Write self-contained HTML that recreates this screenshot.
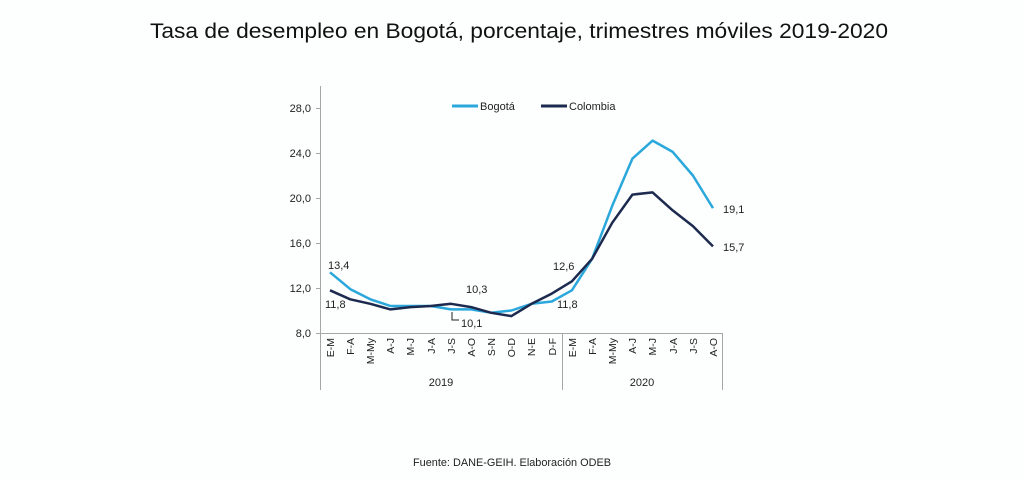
<!DOCTYPE html>
<html><head><meta charset="utf-8"><style>
html,body{margin:0;padding:0;background:#fdfefe;}
svg{display:block;font-family:"Liberation Sans",sans-serif;}
</style></head><body>
<svg width="1024" height="480" viewBox="0 0 1024 480" xmlns="http://www.w3.org/2000/svg">
<rect width="1024" height="480" fill="#fdfefe"/>
<text x="519" y="38" text-anchor="middle" font-size="21" fill="#111" textLength="738" lengthAdjust="spacingAndGlyphs">Tasa de desempleo en Bogotá, porcentaje, trimestres móviles 2019-2020</text>
<g stroke="#a6a6a6" stroke-width="1" fill="none">
<line x1="320.5" y1="86" x2="320.5" y2="390"/>
<line x1="320" y1="333.5" x2="723" y2="333.5"/>
<line x1="562.5" y1="333" x2="562.5" y2="390"/>
<line x1="722.5" y1="333" x2="722.5" y2="390"/>
<line x1="316" y1="108.5" x2="320" y2="108.5"/>
<line x1="316" y1="153.5" x2="320" y2="153.5"/>
<line x1="316" y1="198.5" x2="320" y2="198.5"/>
<line x1="316" y1="243.5" x2="320" y2="243.5"/>
<line x1="316" y1="288.5" x2="320" y2="288.5"/>
<line x1="316" y1="333.5" x2="320" y2="333.5"/>
</g>
<g font-size="11" fill="#222" text-anchor="end">
<text x="311" y="112">28,0</text>
<text x="311" y="157">24,0</text>
<text x="311" y="202">20,0</text>
<text x="311" y="247">16,0</text>
<text x="311" y="292">12,0</text>
<text x="311" y="337">8,0</text>
</g>
<g font-size="10.5" fill="#222" text-anchor="end">
<text transform="translate(334,338) rotate(-90)">E-M</text>
<text transform="translate(354,338) rotate(-90)">F-A</text>
<text transform="translate(374,338) rotate(-90)">M-My</text>
<text transform="translate(394,338) rotate(-90)">A-J</text>
<text transform="translate(414,338) rotate(-90)">M-J</text>
<text transform="translate(435,338) rotate(-90)">J-A</text>
<text transform="translate(455,338) rotate(-90)">J-S</text>
<text transform="translate(475,338) rotate(-90)">A-O</text>
<text transform="translate(495,338) rotate(-90)">S-N</text>
<text transform="translate(515,338) rotate(-90)">O-D</text>
<text transform="translate(535,338) rotate(-90)">N-E</text>
<text transform="translate(556,338) rotate(-90)">D-F</text>
<text transform="translate(576,338) rotate(-90)">E-M</text>
<text transform="translate(596,338) rotate(-90)">F-A</text>
<text transform="translate(616,338) rotate(-90)">M-My</text>
<text transform="translate(636,338) rotate(-90)">A-J</text>
<text transform="translate(656,338) rotate(-90)">M-J</text>
<text transform="translate(677,338) rotate(-90)">J-A</text>
<text transform="translate(697,338) rotate(-90)">J-S</text>
<text transform="translate(717,338) rotate(-90)">A-O</text>
</g>
<g font-size="11" fill="#222" text-anchor="middle">
<text x="441" y="386">2019</text>
<text x="642" y="386">2020</text>
</g>
<polyline fill="none" stroke="#2aa8dc" stroke-width="2.5" stroke-linejoin="round" points="330,272.3 350.2,289.1 370.3,299.3 390.5,306 410.6,306 430.8,306 451,309.4 471.1,309.4 491.3,312.8 511.4,310.5 531.6,303.8 551.8,301.5 571.9,290.3 592.1,258.8 612.2,205.9 632.4,158.6 652.6,140.6 672.7,151.9 692.9,175.5 713,208.1"/>
<polyline fill="none" stroke="#1d2a4f" stroke-width="2.5" stroke-linejoin="round" points="330,290.3 350.2,299.3 370.3,303.8 390.5,309.4 410.6,307.1 430.8,306 451,303.8 471.1,307.1 491.3,312.8 511.4,316.1 531.6,303.8 551.8,293.6 571.9,281.3 592.1,258.8 612.2,222.8 632.4,194.6 652.6,192.4 672.7,210.4 692.9,226.1 713,246.4"/>
<line x1="452" y1="106" x2="478" y2="106" stroke="#2aa8dc" stroke-width="3"/>
<line x1="541" y1="106" x2="567" y2="106" stroke="#1d2a4f" stroke-width="3"/>
<g font-size="11" fill="#222">
<text x="480" y="110">Bogotá</text>
<text x="569" y="110">Colombia</text>
<text x="328" y="269">13,4</text>
<text x="325" y="308">11,8</text>
<text x="466" y="293">10,3</text>
<text x="461" y="327">10,1</text>
<text x="553" y="270">12,6</text>
<text x="557" y="308">11,8</text>
<text x="723" y="213">19,1</text>
<text x="723" y="251">15,7</text>
</g>
<polyline points="452,312 452,320 459,320" fill="none" stroke="#222" stroke-width="1"/>
<text x="512" y="466" text-anchor="middle" font-size="11" fill="#222" textLength="198" lengthAdjust="spacingAndGlyphs">Fuente: DANE-GEIH. Elaboración ODEB</text>
</svg>
</body></html>
